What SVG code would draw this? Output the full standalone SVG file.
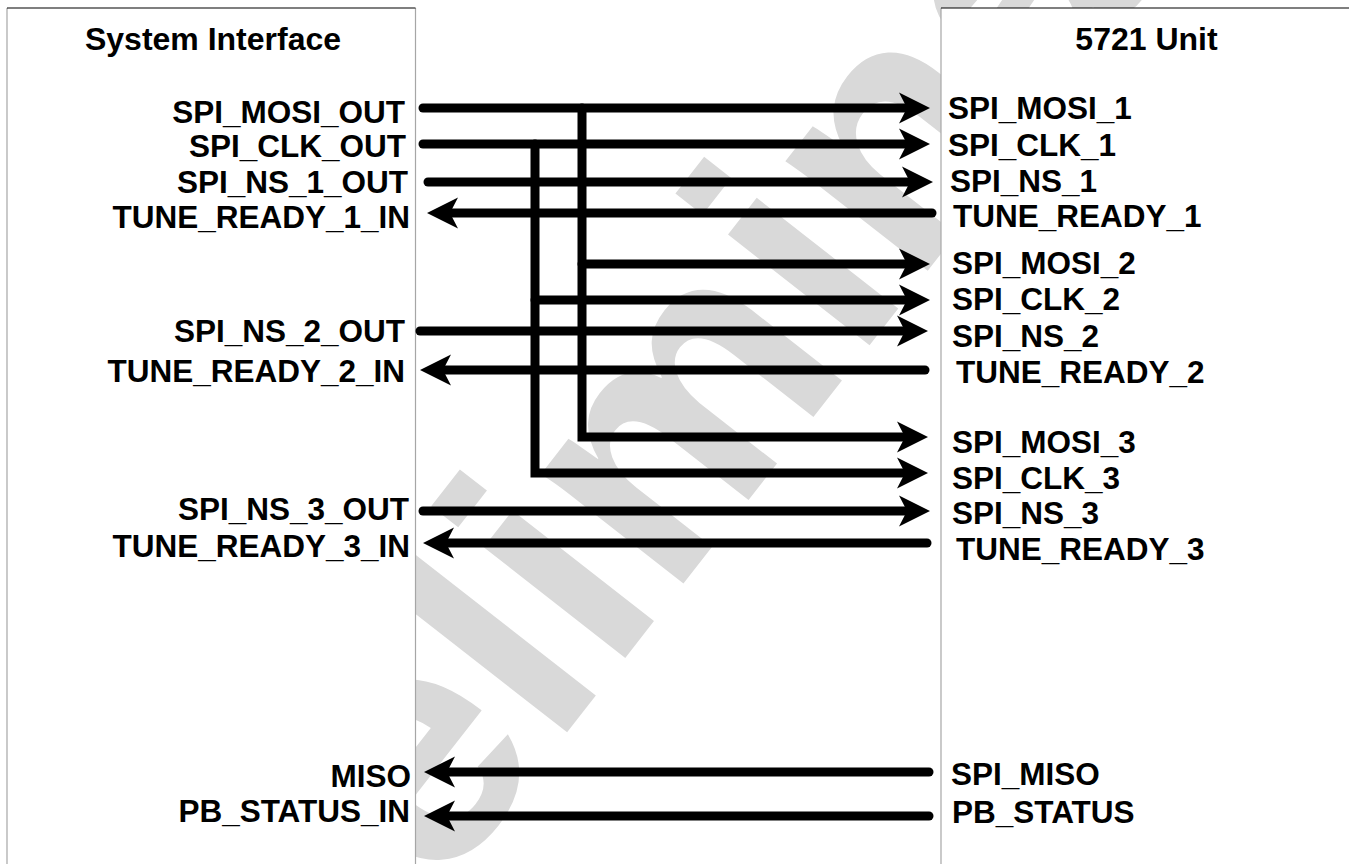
<svg xmlns="http://www.w3.org/2000/svg" width="1349" height="864" viewBox="0 0 1349 864">
<style>
.lbl{font-family:"Liberation Sans",Arial,sans-serif;font-weight:bold;font-size:31.5px;fill:#000}
.ttl{font-family:"Liberation Sans",Arial,sans-serif;font-weight:bold;font-size:32px;fill:#000;text-anchor:middle}
.end{text-anchor:end}
.wire{fill:none;stroke:#000;stroke-width:9;stroke-linecap:round;stroke-linejoin:miter}
.arr{marker-end:url(#ah)}
.box{fill:#fff;stroke:none}
.side{stroke:#a6a6a6;stroke-width:1.2}
.top{stroke:#000;stroke-width:1.2}
.wm{font-family:"Liberation Sans",Arial,sans-serif;font-weight:bold;font-size:340px;fill:#d9d9d9}
</style>
<defs>
<marker id="ah" markerUnits="userSpaceOnUse" viewBox="0 -16 32 32" markerWidth="32" markerHeight="32" refX="8" refY="0" orient="auto">
<path d="M0,-15.5 L31,0 L0,15.5 L8,0 Z" fill="#000"/>
</marker>
</defs>
<rect width="1349" height="864" fill="#fff"/>
<g id="watermark">
<text class="wm" transform="translate(215,1183) rotate(-52)">Preliminary</text>
</g>
<g id="system-interface">
<rect class="box" x="7" y="8" width="408.5" height="870"/>
<line class="side" x1="7" y1="8" x2="7" y2="864"/>
<line class="side" x1="415.5" y1="8" x2="415.5" y2="864"/>
<line class="top" x1="7" y1="8" x2="415.5" y2="8"/>
<text class="ttl" x="213" y="50">System Interface</text>
<text class="lbl end" x="405" y="123">SPI_MOSI_OUT</text>
<text class="lbl end" x="406" y="157">SPI_CLK_OUT</text>
<text class="lbl end" x="408" y="193">SPI_NS_1_OUT</text>
<text class="lbl end" x="410" y="228">TUNE_READY_1_IN</text>
<text class="lbl end" x="405" y="342">SPI_NS_2_OUT</text>
<text class="lbl end" x="405" y="382">TUNE_READY_2_IN</text>
<text class="lbl end" x="409" y="520">SPI_NS_3_OUT</text>
<text class="lbl end" x="410" y="557">TUNE_READY_3_IN</text>
<text class="lbl end" x="411" y="787">MISO</text>
<text class="lbl end" x="410" y="822">PB_STATUS_IN</text>
</g>
<g id="unit-5721">
<rect class="box" x="941" y="8" width="420" height="870"/>
<line class="side" x1="941" y1="8" x2="941" y2="864"/>
<line class="top" x1="941" y1="8" x2="1349" y2="8"/>
<text class="ttl" x="1146.5" y="50">5721 Unit</text>
<text class="lbl" x="948" y="119">SPI_MOSI_1</text>
<text class="lbl" x="948" y="156">SPI_CLK_1</text>
<text class="lbl" x="950" y="192">SPI_NS_1</text>
<text class="lbl" x="953" y="227">TUNE_READY_1</text>
<text class="lbl" x="952" y="274">SPI_MOSI_2</text>
<text class="lbl" x="952" y="310">SPI_CLK_2</text>
<text class="lbl" x="952" y="347">SPI_NS_2</text>
<text class="lbl" x="956" y="383">TUNE_READY_2</text>
<text class="lbl" x="952" y="453">SPI_MOSI_3</text>
<text class="lbl" x="952" y="489">SPI_CLK_3</text>
<text class="lbl" x="952" y="524">SPI_NS_3</text>
<text class="lbl" x="956" y="560">TUNE_READY_3</text>
<text class="lbl" x="951" y="785">SPI_MISO</text>
<text class="lbl" x="952" y="823">PB_STATUS</text>
</g>
<g id="connectors">
<path class="wire arr" d="M423,108 H907"/>
<path class="wire arr" d="M423,144 H907"/>
<path class="wire arr" d="M428,182 H910"/>
<path class="wire arr" d="M932,213 H450"/>
<path class="wire arr" d="M582,108 V437 H905"/>
<path class="wire arr" d="M582,264 H907"/>
<path class="wire arr" d="M535,144 V473 H905"/>
<path class="wire arr" d="M535,300 H907"/>
<path class="wire arr" d="M420,331 H905"/>
<path class="wire arr" d="M925,370 H443"/>
<path class="wire arr" d="M423,511 H907"/>
<path class="wire arr" d="M927,543 H446"/>
<path class="wire arr" d="M929,772 H447"/>
<path class="wire arr" d="M929,816 H447"/>
</g>
</svg>
